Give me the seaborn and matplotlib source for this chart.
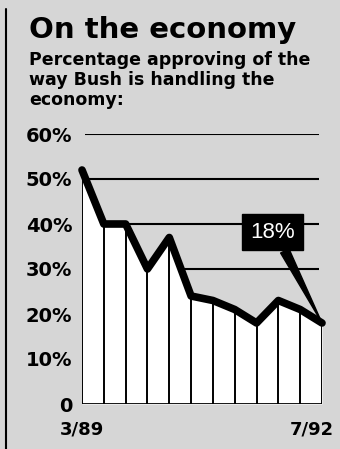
import matplotlib
matplotlib.use('Agg')
import matplotlib.pyplot as plt
import matplotlib.transforms as mtransforms
from matplotlib.lines import Line2D
import pandas as pd
import seaborn as sns

# values (percent approving, 3/89 .. 7/92)
approval = [52, 40, 40, 30, 37, 24, 23, 21, 18, 23, 21, 18]
poll = list(range(len(approval)))
x_labels = ['3/89', '7/92']
y_ticks = [0, 10, 20, 30, 40, 50, 60]
y_labels = ['0', '10%', '20%', '30%', '40%', '50%', '60%']
grid_levels = [30, 40, 50, 60]
last_label = '18%'

df = pd.DataFrame({'poll': poll, 'approval': approval})

sns.set_theme(style='white')
plt.rcParams['font.family'] = ['DejaVu Sans']
plt.rcParams['text.color'] = 'black'
plt.rcParams['xtick.color'] = 'black'
plt.rcParams['ytick.color'] = 'black'

paper = '#d6d6d6'
W, H = 340, 449
fig = plt.figure(figsize=(W / 100, H / 100), dpi=100, facecolor=paper)
ax = fig.add_axes([82 / W, 45 / H, 240 / W, 270 / H])
ax.set_facecolor('none')

# gridlines sit behind the white area
ax.hlines(grid_levels, 0.15, 10.85, color='black', lw=1.5, zorder=1)
ax.fill_between(df['poll'], 0, df['approval'], color='white', lw=0, zorder=2)
ax.vlines(df['poll'], 0, df['approval'], color='black', lw=1.4, zorder=3)
ax.hlines(0, 0, len(poll) - 1, color='black', lw=2, zorder=3)
sns.lineplot(data=df, x='poll', y='approval', color='black', lw=5.5,
             ax=ax, zorder=4, clip_on=False)

# callout for the latest reading
ax.annotate(last_label, xy=(poll[-1], approval[-1]), xytext=(8.73, 38.2),
            ha='center', va='center', color='white', fontsize=16,
            family='Liberation Sans', zorder=5,
            bbox=dict(boxstyle='square,pad=0.35', fc='black', ec='black'),
            arrowprops=dict(arrowstyle='wedge,tail_width=0.42,shrink_factor=0.5',
                            fc='black', ec='black', relpos=(0.68, 0),
                            shrinkA=0, shrinkB=0))

ax.set_xlim(0, len(poll) - 1)
ax.set_ylim(0, 60)
ax.set_xticks([0, len(poll) - 1], x_labels)
ax.set_yticks(y_ticks, y_labels)
ax.set_xlabel('')
ax.set_ylabel('')
ax.tick_params(axis='y', length=0, pad=7, labelsize=14)
ax.tick_params(axis='x', length=0, pad=12, labelsize=13)
for lab in ax.get_xticklabels() + ax.get_yticklabels():
    lab.set_fontweight('bold')
last = ax.get_xticklabels()[-1]
last.set_transform(last.get_transform() +
                   mtransforms.ScaledTranslation(-10 / 100, 0, fig.dpi_scale_trans))
sns.despine(ax=ax, left=True, bottom=True)

fig.text(29 / W, 1 - 38 / H, 'On the economy', fontsize=21, weight='bold', va='baseline')
subtitle = ['Percentage approving of the', 'way Bush is handling the', 'economy:']
for i, line in enumerate(subtitle):
    fig.text(29 / W, 1 - (65 + 20 * i) / H, line, fontsize=12.5, weight='bold', va='baseline')

fig.add_artist(Line2D([6 / W, 6 / W], [0, 0.98], color='black', lw=1.5))

fig.savefig('out.png', dpi=100, facecolor=paper)
